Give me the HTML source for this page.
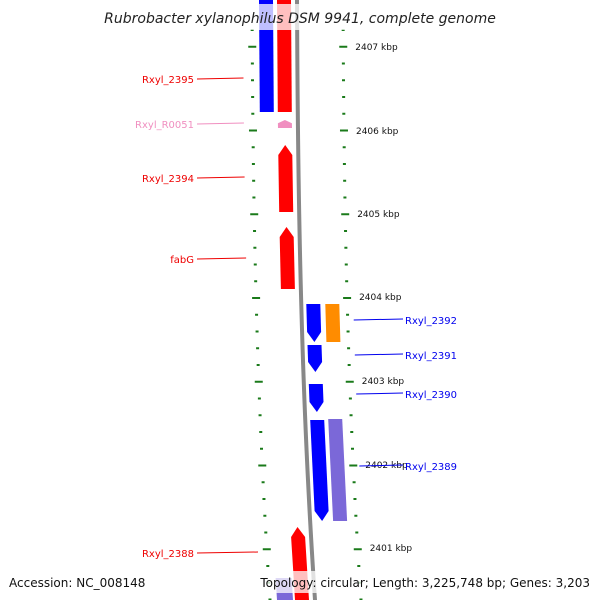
<!DOCTYPE html>
<html><head><meta charset="utf-8"><style>
body{margin:0;background:#fff;}
svg{display:block;font-family:"DejaVu Sans","Liberation Sans",sans-serif;}
</style></head><body>
<svg id="map" width="600" height="600" viewBox="0 0 600 600">
<g id="ticks"></g>
<path id="backbone" fill="none" stroke="#888" stroke-width="4"/>
<g id="features"></g>
<g id="labels"></g>
<rect x="100" y="4" width="400" height="26" fill="#fff" opacity="0.75"/>
<text x="300" y="23" text-anchor="middle" font-size="14" font-style="italic" fill="#222">Rubrobacter xylanophilus DSM 9941, complete genome</text>
<rect x="0" y="571" width="600" height="22" fill="#fff" opacity="0.75"/>
<text x="9" y="587" font-size="12" fill="#111">Accession: NC_008148</text>
<text x="590" y="587" text-anchor="end" font-size="12" fill="#111">Topology: circular; Length: 3,225,748 bp; Genes: 3,203</text>
</svg>
<script>
const tickKbp = [2407, 2406, 2405, 2404, 2403, 2402, 2401];
const tickYR = [47, 131, 214, 297, 381, 465, 548];
const featNames = ["Rxyl_2395","top-red","Rxyl_R0051","Rxyl_2394","fabG","Rxyl_2392","orange","Rxyl_2391","Rxyl_2390","Rxyl_2389","purple","Rxyl_2388","bottom-purple"];
const featY0 = [0,0,120,145,227,304,304,345,384,420,419,527,578];
const featY1 = [112,112,128,212,289,342,342,372,412,521,521,600,600];
const featOff0 = [-38,-20,-20,-20,-20,5,24,5,5,5,23,-20,-38];
const featOff1 = [-24,-6,-6,-6,-6,19,38,19,19,19,37,-6,-22];
const featDir = [0,0,1,1,1,-1,0,-1,-1,-1,0,1,0];
const featColor = ["#0000ff","#ff0000","#f08fc0","#ff0000","#ff0000","#0000ff","#ff8c00","#0000ff","#0000ff","#0000ff","#7b68d8","#ff0000","#7b68d8"];
const labelText = ["Rxyl_2395","Rxyl_R0051","Rxyl_2394","fabG","Rxyl_2392","Rxyl_2391","Rxyl_2390","Rxyl_2389","Rxyl_2388"];
const labelY = [79,124,178,259,320,355,394,466,553];
const labelSide = [-1,-1,-1,-1,1,1,1,1,-1];
const labelColor = ["#e00","#f08fc0","#e00","#e00","#00e","#00e","#00e","#00e","#e00"];
const NS="http://www.w3.org/2000/svg";
function bx(y){const t=Math.max(0,y)/600;return 297+3*t+15*Math.pow(t,2.5);}
function mk(tag,attrs,parent){const e=document.createElementNS(NS,tag);for(const k in attrs)e.setAttribute(k,attrs[k]);parent.appendChild(e);return e;}
let d="M297,-5";for(let y=0;y<=605;y+=5){d+="L"+bx(y).toFixed(2)+","+y;}
document.getElementById("backbone").setAttribute("d",d);
const tg=document.getElementById("ticks");
for(let y=30;y<=600;y+=16.75){
  const major=tickYR.some(v=>Math.abs(v-y)<6);
  const w=major?8:3;
  const l=mk("line",{x1:bx(y)-45-w/2,x2:bx(y)-45+w/2,y1:y,y2:y,stroke:"#1a7a1a","stroke-width":2},tg);
  
  
  const r=mk("line",{x1:bx(y)+46-w/2,x2:bx(y)+46+w/2,y1:y,y2:y,stroke:"#1a7a1a","stroke-width":2},tg);
  
  
}
tickKbp.forEach((k,i)=>{
  const y=tickYR[i];
  const t=mk("text",{x:bx(y)+58,y:y+3,"font-size":9,fill:"#111"},tg);
  t.textContent=k+" kbp";
  
  
});
const fg=document.getElementById("features");
featNames.forEach((n,i)=>{
  const y0=featY0[i],y1=featY1[i],a=featOff0[i],b=featOff1[i],dir=featDir[i];
  const h=Math.min(10,(y1-y0)*0.4);
  let pts;
  const L=y=>bx(y)+a, R=y=>bx(y)+b;
  if(dir===1){const m=(L(y0)+R(y0))/2;pts=[[m,y0],[R(y0+h),y0+h],[R(y1),y1],[L(y1),y1],[L(y0+h),y0+h]];}
  else if(dir===-1){const m=(L(y1)+R(y1))/2;pts=[[L(y0),y0],[R(y0),y0],[R(y1-h),y1-h],[m,y1],[L(y1-h),y1-h]];}
  else pts=[[L(y0),y0],[R(y0),y0],[R(y1),y1],[L(y1),y1]];
  const p=mk("polygon",{points:pts.map(q=>q[0].toFixed(1)+","+q[1]).join(" "),fill:featColor[i]},fg);
  
  
});
const lg=document.getElementById("labels");
labelText.forEach((s,i)=>{
  const y=labelY[i],side=labelSide[i];
  let lx1,lx2,tx,anchor;
  if(side<0){lx1=197;lx2=bx(y)-54;tx=194;anchor="end";}
  else{lx1=bx(y)+52;lx2=403;tx=405;anchor="start";}
  const l=mk("line",{x1:lx1,x2:lx2,y1:y,y2:y-1,stroke:labelColor[i],"stroke-width":1},lg);
  
  
  const t=mk("text",{x:tx,y:y+4,"font-size":10,fill:labelColor[i],"text-anchor":anchor},lg);
  t.textContent=s;
  
  
});
</script>
</body></html>
